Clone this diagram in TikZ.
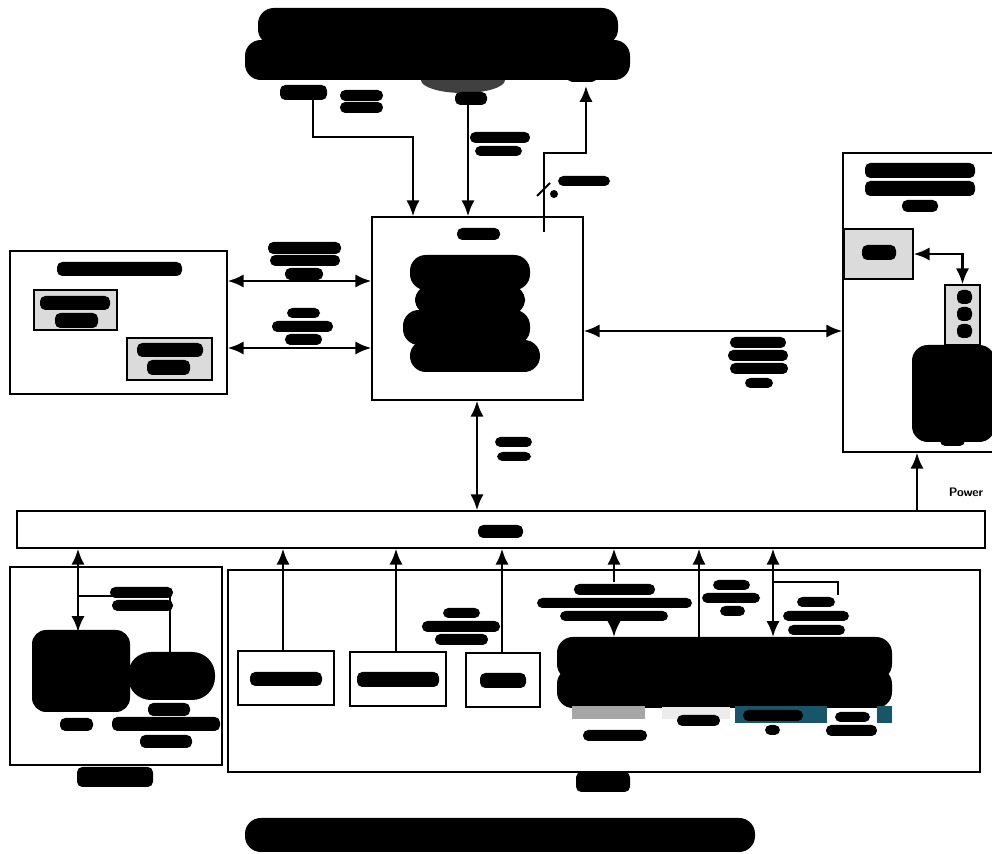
\documentclass[tikz,border=0pt]{standalone}
\usepackage{tikz}
\usetikzlibrary{arrows.meta,fit}

\definecolor{screenteal}{RGB}{25,85,105}

\begin{document}
\begin{tikzpicture}[x=0.02cm,y=-0.02cm,
                box/.style={draw,line width=0.8pt,inner sep=0pt},
                graybox/.style={box,fill=gray!28},
                blot/.style={fill=black,rounded corners=3pt},
                bigblot/.style={fill=black,rounded corners=9pt},
                link/.style={line width=1.5pt,-{Latex[length=9pt,width=7.5pt]}},
                dlink/.style={line width=1.5pt,{Latex[length=9pt,width=7.5pt]}-{Latex[length=9pt,width=7.5pt]}},
                wire/.style={line width=1.1pt}
                ]
                \useasboundingbox (0,0) rectangle (992,854);
                % blocks
                \node[box,fit={(372,217) (583,400)}] (ctrl) {};
                \node[box,fit={(10,251) (227,394)}] (store) {};
                \node[box,fit={(843,153) (1010,452)}] (disp) {};
                \node[box,fit={(17,511) (985,548)}] (bus) {};
                \node[box,fit={(10,567) (222,765)}] (sens) {};
                \node[box,fit={(228,570) (980,772)}] (io) {};
                \node[box,fit={(238,651) (334,705)}] (in1) {};
                \node[box,fit={(350,652) (446,706)}] (in2) {};
                \node[box,fit={(466,653) (540,707)}] (in3) {};
                \node[graybox,fit={(34,290) (117,330)}] (mem1) {};
                \node[graybox,fit={(127,338) (212,380)}] (mem2) {};
                \node[graybox,fit={(844,229) (913,279)}] (pad) {};
                \node[graybox,fit={(945,285) (980,345)}] (led) {};
                % redacted blobs
                \fill[black!75] (463,80) ellipse (42 and 13);
                \foreach \a/\b/\c/\d in {258/8/618/45, 245/40/630/80,
                    410/255/530/290, 415/285/525/315, 403/310/530/345, 410/340/540/372,
                    557/637/892/680, 557/668/892/708, 245/818/755/852}
                    \fill[bigblot] (\a,\b) rectangle (\c,\d);
                \fill[screenteal] (916,380) rectangle (992,430);
                \fill[bigblot] (912,345) rectangle (995,442);
                \fill[blot] (940,425) rectangle (965,446);
                \fill[black,rounded corners=8pt] (32,630) rectangle (130,712);
                \fill[black,rounded corners=13pt] (128,652) rectangle (215,700);
                \fill[screenteal] (735,706) rectangle (827,723);
                \fill[screenteal] (877,706) rectangle (892,723);
                \fill[gray!70] (572,706) rectangle (645,719);
                \fill[gray!15] (662,707) rectangle (730,719);
                % redacted labels
                \foreach \a/\b/\c/\d in {280/85/327/100, 340/90/383/101, 340/102/383/113, 455/92/487/105, 567/74/597/82,
                    470/132/530/143, 475/146/522/156, 558/176/610/186, 457/228/500/240,
                    57/262/182/276, 40/296/110/310, 55/313/98/328, 137/343/203/357, 147/360/190/375,
                    268/242/341/254, 270/255/340/266, 285/268/323/280, 287/308/320/318, 272/321/333/332, 285/334/322/345,
                    865/163/975/178, 865/181/975/196, 902/200/938/212, 862/245/896/260,
                    957/290/972/304, 957/307/972/321, 957/324/972/338,
                    730/337/786/348, 728/350/788/361, 730/363/788/374, 745/378/773/388,
                    495/437/532/447, 497/452/531/461, 478/525/523/538,
                    110/587/173/598, 112/600/173/611, 148/703/190/716, 60/718/93/731, 112/717/220/731, 140/735/192/748, 77/767/153/787,
                    250/672/322/686, 357/672/439/687, 480/673/526/688,
                    443/608/480/618, 422/621/500/632, 435/634/488/645,
                    574/584/655/595, 537/598/692/608, 560/611/668/621,
                    713/580/750/590, 702/593/760/603, 720/606/745/616,
                    797/597/835/607, 783/611/849/621, 788/625/845/635,
                    583/730/647/741, 677/715/720/726, 743/710/803/721, 765/725/780/735,
                    835/712/870/722, 826/725/877/736, 576/772/630/792}
                    \fill[blot] (\a,\b) rectangle (\c,\d);
                % connectors
                \draw[link] (313,100) |- (413,137) -- (ctrl.north -| 413,0);
                \draw[link] (468,105) -- (ctrl.north -| 468,0);
                \draw[link] (544,232) |- (586,153) -- (586,86);
                \draw[wire] (537,196) -- (550,183);
                \fill (554,194) circle (4);
                \draw[dlink] (store.east |- 0,281) -- (ctrl.west |- 0,281);
                \draw[dlink] (store.east |- 0,348) -- (ctrl.west |- 0,348);
                \draw[dlink] (ctrl.east |- 0,331) -- (disp.west |- 0,331);
                \draw[dlink] (pad.east) -| (led.north);
                \draw[dlink] (ctrl.south -| 477,0) -- (bus.north -| 477,0);
                \draw[link] (bus.north -| 917,0) -- (disp.south -| 917,0);
                \node[font=\sffamily\bfseries\fontsize{7}{8}\selectfont] (pwr) at (966,492) {Power};
                \draw[dlink] (bus.south -| 78,0) -- (78,632);
                \draw[wire] (78,596) -| (170,652);
                \draw[link] (in1.north -| 283,0) -- (bus.south -| 283,0);
                \draw[link] (in2.north -| 396,0) -- (bus.south -| 396,0);
                \draw[link] (in3.north -| 502,0) -- (bus.south -| 502,0);
                \draw[link] (614,582) -- (bus.south -| 614,0);
                \draw[link] (614,622) -- (614,637);
                \draw[link] (699,637) -- (bus.south -| 699,0);
                \draw[dlink] (bus.south -| 773,0) -- (773,637);
                \draw[wire] (773,582) -| (838,595);
\end{tikzpicture}
\end{document}
